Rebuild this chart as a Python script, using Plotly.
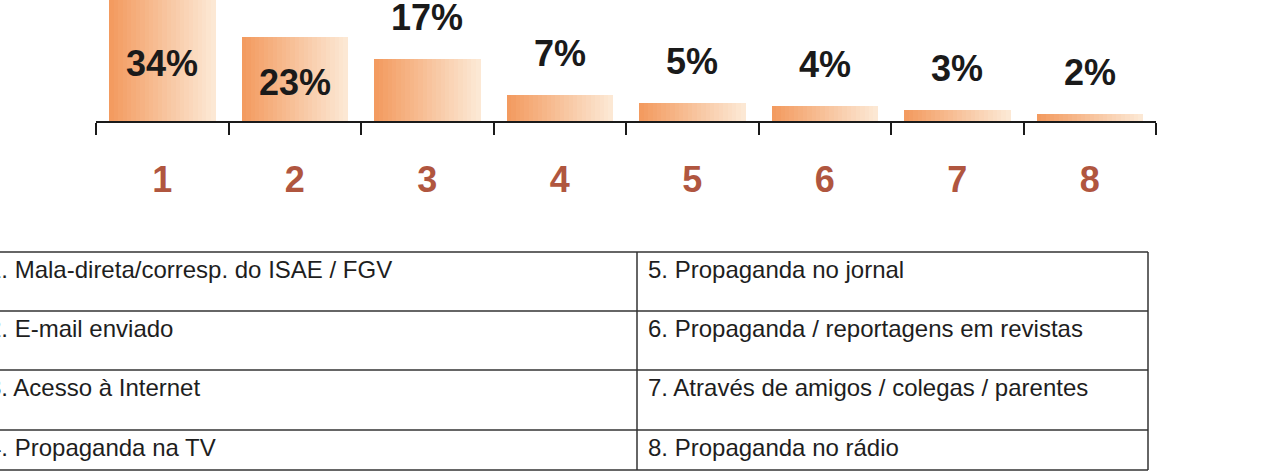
import plotly.graph_objects as go

# ---- data ----
categories = ["1", "2", "3", "4", "5", "6", "7", "8"]
values = [34, 23, 17, 7, 5, 4, 3, 2]
value_labels = ["34%", "23%", "17%", "7%", "5%", "4%", "3%", "2%"]
legend_left = [
    "1. Mala-direta/corresp. do ISAE / FGV",
    "2. E-mail enviado",
    "3. Acesso à Internet",
    "4. Propaganda na TV",
]
legend_right = [
    "5. Propaganda no jornal",
    "6. Propaganda / reportagens em revistas",
    "7. Através de amigos / colegas / parentes",
    "8. Propaganda no rádio",
]

W, H = 1270, 476
AXIS_Y = 121          # px from top where the baseline sits
PX_PER_UNIT = 3.65
X0, X1 = 96, 1156

fig = go.Figure()

# gradient bars built from thin vertical strips
N = 24
bar_w = 0.8
c0 = (243, 155, 96)
c1 = (252, 232, 212)
for k in range(N):
    t = k / (N - 1)
    col = tuple(round(c0[i] + (c1[i] - c0[i]) * t) for i in range(3))
    fig.add_trace(go.Bar(
        x=categories, y=values,
        width=bar_w / N + 0.002,
        offset=-bar_w / 2 + k * bar_w / N,
        marker=dict(color="rgb(%d,%d,%d)" % col, line=dict(width=0)),
        showlegend=False, hoverinfo="skip",
    ))

# value labels (category axis -> use category index as x)
for idx, (v, lab) in enumerate(zip(values, value_labels)):
    if v >= 20:
        fig.add_annotation(x=idx, y=v * 0.46, text="<b>%s</b>" % lab, showarrow=False,
                           yanchor="middle", font=dict(size=36, color="#1a1a1a",
                                                       family="Liberation Sans, Arial"))
    else:
        fig.add_annotation(x=idx, y=v, text="<b>%s</b>" % lab, showarrow=False,
                           yanchor="bottom", yshift=19,
                           font=dict(size=36, color="#1a1a1a", family="Liberation Sans, Arial"))

fig.update_layout(
    width=W, height=H, margin=dict(l=0, r=0, t=0, b=0),
    paper_bgcolor="white", plot_bgcolor="white", barmode="overlay", bargap=0,
    xaxis=dict(type="category", domain=[X0 / W, X1 / W], range=[-0.5, 7.5],
               tickson="boundaries", ticks="outside", ticklen=12, tickwidth=2,
               tickcolor="#1a1a1a", showline=True, linecolor="#1a1a1a", linewidth=2,
               showgrid=False, zeroline=False, ticklabelstandoff=26,
               tickfont=dict(size=36, color="#b0563f", family="Liberation Sans, Arial"),
               tickprefix="<b>", ticksuffix="</b>", fixedrange=True),
    yaxis=dict(domain=[1 - AXIS_Y / H, 1], range=[0, AXIS_Y / PX_PER_UNIT],
               visible=False, fixedrange=True),
    showlegend=False,
)

# legend table drawn with shapes + text
row_edges = [252, 311, 370, 430, 470]
mid_x = 637
right_x = 1148
line = dict(color="#333333", width=1.5)
for yp in row_edges:
    fig.add_shape(type="line", xref="paper", yref="paper",
                  x0=-0.02, x1=right_x / W, y0=1 - yp / H, y1=1 - yp / H, line=line)
for xp in (mid_x, right_x):
    fig.add_shape(type="line", xref="paper", yref="paper",
                  x0=xp / W, x1=xp / W, y0=1 - row_edges[0] / H, y1=1 - row_edges[-1] / H, line=line)

for i, (lt, rt) in enumerate(zip(legend_left, legend_right)):
    yc = row_edges[i] + 17
    fig.add_annotation(xref="paper", yref="paper", x=-14 / W, y=1 - yc / H, text=lt,
                       showarrow=False, xanchor="left", yanchor="middle",
                       font=dict(size=24, color="#1e1e1e", family="Liberation Sans, Arial"))
    fig.add_annotation(xref="paper", yref="paper", x=646 / W, y=1 - yc / H, text=rt,
                       showarrow=False, xanchor="left", yanchor="middle",
                       font=dict(size=24, color="#1e1e1e", family="Liberation Sans, Arial"))

fig.write_html("out.html")
